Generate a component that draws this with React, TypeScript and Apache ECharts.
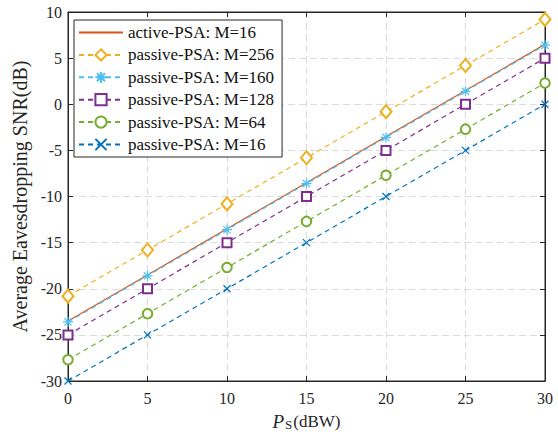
import React, { useEffect, useRef } from "react";
import * as echarts from "echarts";

const xValues = [0, 5, 10, 15, 20, 25, 30];
const activeM16 = [-23.5, -18.5, -13.5, -8.5, -3.5, 1.5, 6.5];
const passiveM256 = [-20.8, -15.8, -10.8, -5.8, -0.8, 4.2, 9.2];
const passiveM160 = [-23.6, -18.6, -13.6, -8.6, -3.6, 1.4, 6.4];
const passiveM128 = [-25, -20, -15, -10, -5, 0, 5];
const passiveM64 = [-27.7, -22.7, -17.7, -12.7, -7.7, -2.7, 2.3];
const passiveM16 = [-30, -25, -20, -15, -10, -5, 0];

const seriesNames = [
  "active-PSA: M=16",
  "passive-PSA: M=256",
  "passive-PSA: M=160",
  "passive-PSA: M=128",
  "passive-PSA: M=64",
  "passive-PSA: M=16",
];

const FONT = "Liberation Serif";
const AXIS = "#262626";

const ASTERISK = "path://M0,-5L0,5M-5,0L5,0M-3.6,-3.6L3.6,3.6M-3.6,3.6L3.6,-3.6";
const CROSS = "path://M-1,-1L1,1M-1,1L1,-1";

export default function App() {
  const ref = useRef<HTMLDivElement>(null);
  useEffect(() => {
    const chart = echarts.init(ref.current!, null, { renderer: "svg" });
    const pair = (ys: number[]) => xValues.map((x, i) => [x, ys[i]]);
    const mk = (
      name: string,
      ys: number[],
      color: string,
      symbol: string,
      size: number | number[],
      dashed: boolean,
      show: boolean
    ) => ({
      name,
      type: "line",
      data: pair(ys),
      symbol,
      symbolSize: size,
      showSymbol: show,
      lineStyle: { color, width: 1.2, type: dashed ? [5, 4] : "solid" },
      itemStyle: show
        ? { color, borderColor: color, borderWidth: 1.2 }
        : { color: "rgba(0,0,0,0)", borderColor: "rgba(0,0,0,0)", borderWidth: 0 },
      emphasis: { disabled: true },
    });
    const labelStyle = { color: AXIS, fontFamily: FONT, fontSize: 16 };
    const split = { show: true, lineStyle: { color: "#dcdcdc", type: [7, 4], width: 1 } };
    const axisLine = { show: true, onZero: false, lineStyle: { color: AXIS } };
    const tick = { inside: true, length: 5, lineStyle: { color: AXIS } };
    chart.setOption({
      animation: false,
      backgroundColor: "#fff",
      grid: { left: 68, right: 13, top: 12, bottom: 50, show: true, borderColor: AXIS, borderWidth: 1 },
      legend: {
        left: 74,
        top: 20,
        orient: "vertical",
        itemWidth: 44,
        itemHeight: 14,
        itemGap: 5.4,
        padding: [4, 8, 4, 4],
        borderColor: AXIS,
        borderWidth: 1,
        backgroundColor: "#fff",
        data: seriesNames,
        textStyle: { color: "#111", fontFamily: FONT, fontSize: 17, lineHeight: 14 },
      },
      xAxis: [
        {
          type: "value",
          min: 0,
          max: 30,
          interval: 5,
          name: "{i|P}{s|S}{n|(dBW)}",
          nameLocation: "middle",
          nameGap: 30,
          nameTextStyle: {
            rich: {
              i: { fontFamily: FONT, fontSize: 19, fontStyle: "italic", color: AXIS, padding: [0, 1, 0, 0] },
              s: { fontFamily: FONT, fontSize: 13, color: AXIS, verticalAlign: "bottom", padding: [7, 1, 0, 0] },
              n: { fontFamily: FONT, fontSize: 17, color: AXIS },
            },
          },
          axisLine,
          axisTick: tick,
          axisLabel: { ...labelStyle, margin: 9 },
          splitLine: split,
        },
        {
          type: "value",
          position: "top",
          min: 0,
          max: 30,
          interval: 5,
          axisLine,
          axisTick: tick,
          axisLabel: { show: false },
          splitLine: { show: false },
        },
      ],
      yAxis: [
        {
          type: "value",
          min: -30,
          max: 10,
          interval: 5,
          name: "Average Eavesdropping SNR(dB)",
          nameLocation: "middle",
          nameGap: 38,
          nameTextStyle: { color: AXIS, fontFamily: FONT, fontSize: 20 },
          axisLine,
          axisTick: tick,
          axisLabel: { ...labelStyle, margin: 6 },
          splitLine: split,
        },
        {
          type: "value",
          position: "right",
          min: -30,
          max: 10,
          interval: 5,
          axisLine,
          axisTick: tick,
          axisLabel: { show: false },
          splitLine: { show: false },
        },
      ],
      series: [
        mk(seriesNames[0], activeM16, "#D95319", "circle", 1, false, false),
        mk(seriesNames[1], passiveM256, "#EDB120", "emptyDiamond", [11, 13], true, true),
        mk(seriesNames[2], passiveM160, "#4DBEEE", ASTERISK, 10, true, true),
        mk(seriesNames[3], passiveM128, "#7E2F8E", "emptyRect", 9, true, true),
        mk(seriesNames[4], passiveM64, "#77AC30", "emptyCircle", 9.5, true, true),
        mk(seriesNames[5], passiveM16, "#0072BD", CROSS, 7, true, true),
      ],
    });
    return () => chart.dispose();
  }, []);
  return (
    <div
      ref={ref}
      style={{ position: "absolute", left: 0, top: 0, width: 558, height: 436 }}
    />
  );
}
